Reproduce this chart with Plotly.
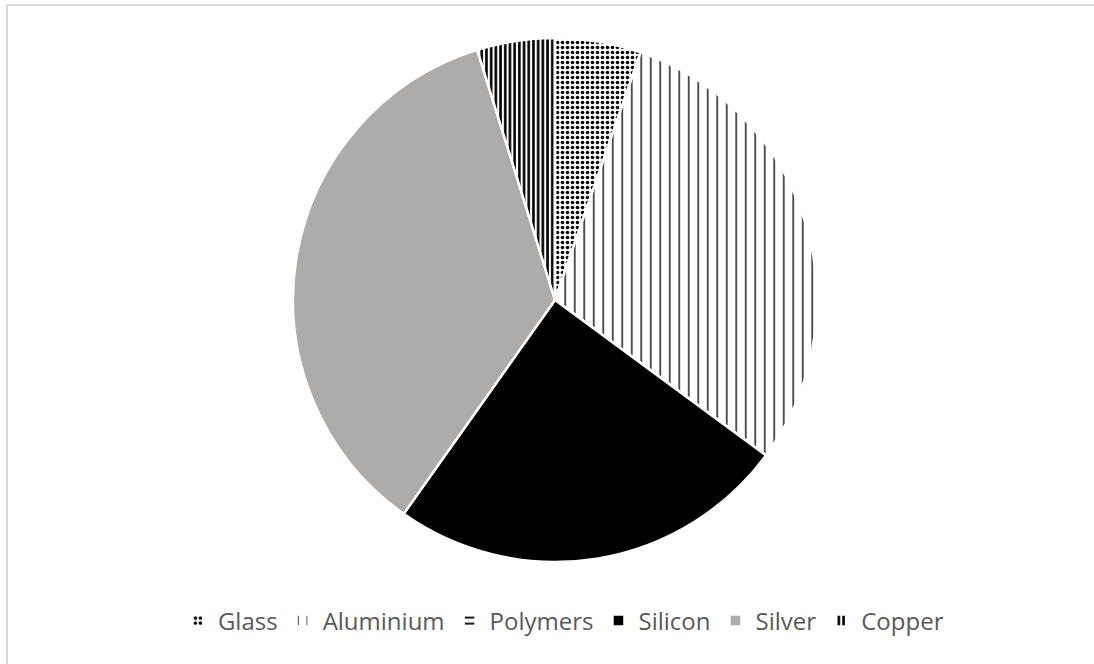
import plotly.graph_objects as go

labels = ["Glass", "Aluminium", "Polymers", "Silicon", "Silver", "Copper"]
values = [5.3, 29.8, 0.0, 24.7, 35.4, 4.8]
colors = ["white", "white", "white", "black", "#AEABAB", "white"]
shapes = [".", "|", "-", "", "", "|"]
pat_size = [5, 9.5, 6, 8, 8, 4.7]
pat_solid = [0.4, 0.14, 0.3, 0.3, 0.3, 0.55]

W, H = 1094, 664
cx, cy, r = 555, 300, 262

fig = go.Figure(go.Pie(
    labels=labels,
    values=values,
    sort=False,
    direction="clockwise",
    rotation=0,
    textinfo="none",
    hoverinfo="label+percent",
    marker=dict(
        colors=colors,
        line=dict(color="white", width=2.5),
        pattern=dict(
            shape=shapes,
            fgcolor="black",
            fgopacity=1,
            bgcolor=colors,
            size=pat_size,
            solidity=pat_solid,
            fillmode="replace",
        ),
    ),
    domain=dict(
        x=[(cx - r) / W, (cx + r) / W],
        y=[(H - cy - r) / H, (H - cy + r) / H],
    ),
))

fig.update_layout(
    width=W, height=H,
    margin=dict(l=0, r=0, t=0, b=0),
    paper_bgcolor="white",
    plot_bgcolor="white",
    showlegend=True,
    legend=dict(
        orientation="h",
        x=0.515, xanchor="center",
        y=(H - 621) / H, yanchor="middle",
        font=dict(family="Open Sans, Liberation Sans, sans-serif", size=24, color="#595959"),
        itemwidth=30,
        traceorder="normal",
        itemclick=False,
    ),
    shapes=[
        dict(type="line", xref="paper", yref="paper", x0=7 / W, x1=1.0, y0=(H - 5) / H, y1=(H - 5) / H,
             line=dict(color="#D9D9D9", width=2)),
        dict(type="line", xref="paper", yref="paper", x0=7 / W, x1=7 / W, y0=0.0, y1=(H - 5) / H,
             line=dict(color="#D9D9D9", width=2)),
    ],
)

fig.write_html("out.html")
